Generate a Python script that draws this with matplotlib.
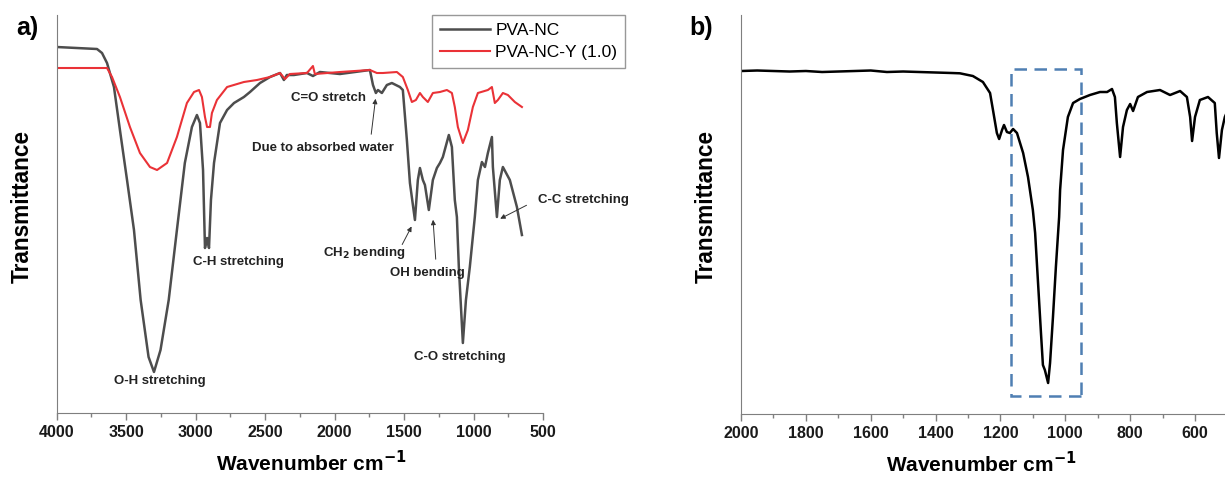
import matplotlib
matplotlib.use("Agg")
import matplotlib.pyplot as plt
from matplotlib.patches import Rectangle

# ── Data ──────────────────────────────────────────────────────────────────────
# panel a) PVA-NC (wavenumber cm-1, transmittance a.u.)
nc_wn = [4000, 3710, 3674, 3638, 3588, 3545, 3494, 3444, 3396, 3339, 3300, 3253,
         3194, 3135, 3078, 3027, 2991, 2969, 2947, 2933, 2918, 2904, 2890, 2868,
         2825, 2774, 2724, 2653, 2609, 2537, 2465, 2393, 2365, 2344, 2293, 2199,
         2156, 2106, 1962, 1854, 1746, 1724, 1703, 1688, 1660, 1624, 1588, 1530,
         1509, 1480, 1458, 1422, 1401, 1386, 1365, 1350, 1322, 1293, 1264, 1242,
         1221, 1178, 1156, 1135, 1120, 1106, 1077, 1055, 1027, 991, 969, 940,
         918, 897, 868, 861, 832, 811, 789, 739, 688, 652]
nc_t = [366, 364, 360, 350, 326, 283, 233, 183, 113, 56, 41, 63,
        113, 183, 250, 286, 298, 290, 243, 165, 175, 165, 213, 250,
        290, 303, 310, 316, 321, 330, 336, 340, 333, 338, 338, 340,
        337, 341, 339, 341, 343, 328, 320, 323, 320, 328, 330, 326,
        323, 273, 230, 193, 233, 245, 233, 228, 203, 233, 245, 250,
        256, 278, 266, 213, 196, 146, 70, 113, 146, 196, 233, 251,
        246, 260, 276, 246, 196, 233, 246, 233, 206, 178]

# panel a) PVA-NC-Y (1.0)
ncy_wn = [4000, 3638, 3602, 3545, 3473, 3401, 3329, 3278, 3206, 3135, 3063, 3012,
          2976, 2955, 2933, 2918, 2897, 2883, 2847, 2774, 2653, 2559, 2465, 2393,
          2357, 2322, 2199, 2156, 2142, 1962, 1746, 1696, 1653, 1552, 1509, 1473,
          1444, 1415, 1386, 1365, 1329, 1293, 1242, 1192, 1156, 1135, 1113, 1077,
          1041, 1005, 969, 897, 868, 847, 825, 789, 753, 703, 652]
ncy_t = [345, 345, 336, 316, 286, 260, 246, 243, 250, 276, 310, 321,
         323, 316, 296, 286, 286, 300, 313, 326, 331, 333, 336, 340,
         334, 339, 340, 347, 339, 341, 343, 340, 340, 341, 336, 323,
         311, 313, 320, 316, 311, 320, 321, 323, 320, 306, 286, 270,
         283, 306, 320, 323, 326, 310, 313, 320, 318, 311, 306]

# panel b)
b_wn = [2000, 1950, 1900, 1850, 1800, 1750, 1700, 1650, 1600, 1550, 1500, 1450,
        1400, 1350, 1325, 1285, 1254, 1232, 1223, 1211, 1204, 1195, 1189, 1180,
        1171, 1161, 1149, 1130, 1115, 1100, 1093, 1084, 1075, 1069, 1063, 1053,
        1047, 1038, 1029, 1019, 1016, 1007, 992, 976, 955, 924, 893, 871,
        856, 847, 841, 831, 822, 810, 800, 791, 776, 748, 708, 677,
        646, 625, 615, 609, 600, 585, 560, 539, 533, 526, 517, 508, 500]
b_t = [343, 343.5, 343, 342.5, 343, 342, 342.5, 343, 343.5, 342, 342.5, 342,
       341.5, 341, 340.7, 338, 332, 321, 304, 281, 275, 284, 289, 282,
       281, 285, 281, 261, 237, 204, 181, 131, 81, 49, 44, 31,
       51, 97, 147, 197, 224, 264, 297, 311, 315, 319, 322, 322,
       325, 317, 291, 257, 287, 304, 310, 303, 317, 322, 324, 319,
       323, 317, 297, 273, 297, 314, 317, 311, 281, 256, 284, 297, 303]

box_wn = (952, 1168)
box_t = (18, 345)

# ── Style ─────────────────────────────────────────────────────────────────────
GRAY = "#4d4d4d"
RED = "#ea3237"
BLUE = "#4f7fb3"
AX = "#7f7f7f"

plt.rcParams.update({
    "font.family": "Liberation Sans",
    "axes.edgecolor": AX,
    "xtick.color": AX,
    "xtick.labelcolor": "#1a1a1a",
    "axes.spines.top": False,
    "axes.spines.right": False,
})

fig = plt.figure(figsize=(12.25, 4.78), dpi=100)
ax_a = fig.add_axes([0.0463, 0.136, 0.397, 0.8326])
ax_b = fig.add_axes([0.6049, 0.1339, 0.3951, 0.8347])


def style_ax(ax, xlim, ylim, major, minor, xlab_x, ylab_x):
    ax.set_xlim(*xlim)
    ax.set_ylim(*ylim)
    ax.set_xticks(major)
    ax.set_xticks(minor, minor=True)
    ax.set_yticks([])
    ax.tick_params(axis="x", which="major", length=5, width=1, pad=4, labelsize=11.5)
    ax.tick_params(axis="x", which="minor", length=3, width=1)
    for lab in ax.get_xticklabels():
        lab.set_fontweight("bold")
    ax.set_xlabel("Wavenumber cm$^{\\mathbf{-1}}$", fontsize=15, fontweight="bold")
    ax.set_ylabel("Transmittance", fontsize=16.3, fontweight="bold")
    ax.xaxis.set_label_coords(xlab_x, -0.092)
    ax.yaxis.set_label_coords(ylab_x, 0.52)


# ── a) ────────────────────────────────────────────────────────────────────────
ax_a.plot(nc_wn, nc_t, color=GRAY, lw=1.8, label="PVA-NC")
ax_a.plot(ncy_wn, ncy_t, color=RED, lw=1.5, label="PVA-NC-Y (1.0)")
style_ax(ax_a, (4000, 500), (0, 398), range(4000, 499, -500),
         range(3750, 500, -500), 0.523, -0.047)

leg = ax_a.legend(loc="upper right", bbox_to_anchor=(1.1686, 1.0), fontsize=12.5,
                  frameon=True, fancybox=False, edgecolor=AX, handlelength=2.9,
                  handletextpad=0.3, borderpad=0.45, labelspacing=0.4,
                  borderaxespad=0)
leg.get_frame().set_linewidth(1.0)

ann_kw = dict(fontsize=9.5, fontweight="bold", ha="center", va="center", color="#222222")
arr_kw = dict(arrowstyle="-|>", lw=0.7, color="#333333", mutation_scale=7)

ax_a.text(3257, 32, "O-H stretching", **ann_kw)
ax_a.text(2695, 151, "C-H stretching", **ann_kw)
ax_a.text(2047, 315, "C=O stretch", **ann_kw)
ax_a.text(2083, 265, "Due to absorbed water", **ann_kw)
ax_a.annotate("", xy=(1703, 317), xytext=(1739, 276), arrowprops=arr_kw)
ax_a.text(1789, 160, "CH$_\\mathbf{2}$ bending", **ann_kw)
ax_a.annotate("", xy=(1437, 189), xytext=(1523, 166), arrowprops=arr_kw)
ax_a.text(1336, 140, "OH bending", **ann_kw)
ax_a.annotate("", xy=(1293, 196), xytext=(1271, 151), arrowprops=arr_kw)
ax_a.text(1099, 56, "C-O stretching", **ann_kw)
ax_a.text(207, 213, "C-C stretching", clip_on=False, **ann_kw)
ax_a.annotate("", xy=(826, 193), xytext=(601, 209), arrowprops=arr_kw,
              annotation_clip=False)

# ── b) ────────────────────────────────────────────────────────────────────────
ax_b.plot(b_wn, b_t, color="black", lw=1.8)
style_ax(ax_b, (2000, 507.5), (0, 399), range(2000, 599, -200),
         range(1900, 500, -200), 0.496, -0.048)
ax_b.add_patch(Rectangle((box_wn[0], box_t[0]), box_wn[1] - box_wn[0],
                         box_t[1] - box_t[0], fill=False, edgecolor=BLUE,
                         lw=1.8, linestyle=(0, (5, 3))))

fig.text(0.022, 0.941, "a)", fontsize=18, fontweight="bold", ha="center", va="center")
fig.text(0.572, 0.941, "b)", fontsize=18, fontweight="bold", ha="center", va="center")

fig.savefig("out.png", dpi=100)
